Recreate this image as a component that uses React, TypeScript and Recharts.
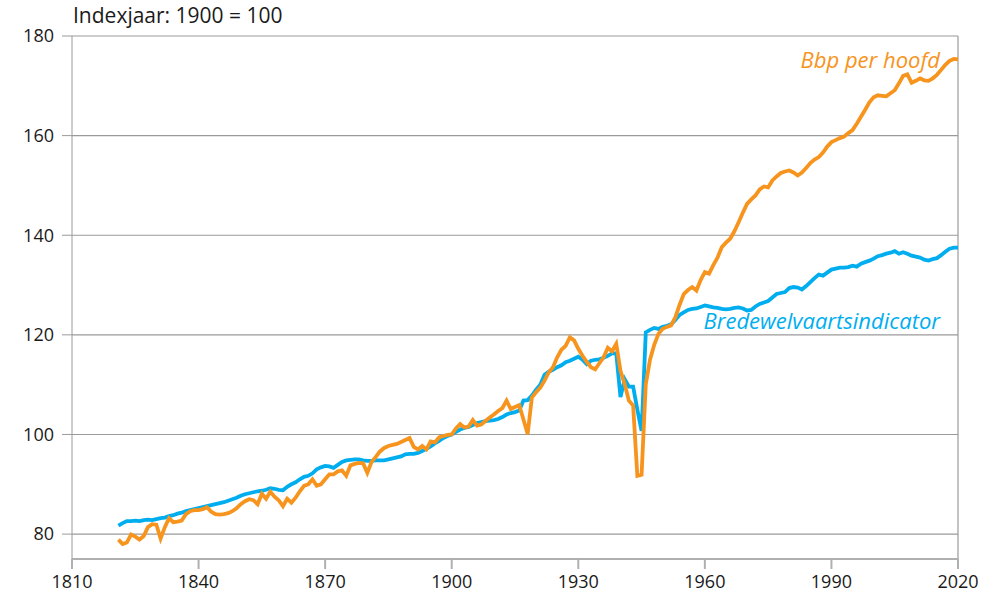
import { LineChart, Line, XAxis, YAxis, CartesianGrid, ReferenceLine } from 'recharts'

const firstYear = 1821

// Bredewelvaartsindicator, 1821-2020 (1900 = 100)
const welvaart = [
  81.7, 82.2, 82.6, 82.6, 82.7, 82.6, 82.8, 82.9, 82.8, 83.0,
  83.2, 83.3, 83.6, 83.8, 84.1, 84.3, 84.6, 84.8, 85.0, 85.2,
  85.4, 85.6, 85.8, 86.0, 86.2, 86.4, 86.7, 87.0, 87.3, 87.7,
  88.0, 88.2, 88.4, 88.6, 88.7, 88.9, 89.2, 89.1, 88.9, 88.8,
  89.5, 90.0, 90.4, 91.0, 91.5, 91.7, 92.2, 93.0, 93.4, 93.7,
  93.6, 93.3, 93.9, 94.5, 94.8, 94.9, 95.0, 95.0, 94.8, 94.7,
  94.7, 94.8, 94.8, 94.8, 95.0, 95.2, 95.4, 95.6, 96.0, 96.1,
  96.1, 96.3, 96.7, 97.1, 97.6, 98.2, 98.7, 99.3, 99.7, 100.0,
  100.5, 101.0, 101.3, 101.5, 101.9, 102.3, 102.5, 102.7, 102.8, 102.9,
  103.1, 103.5, 104.0, 104.3, 104.5, 104.8, 106.8, 106.9, 107.8, 109.0,
  110.0, 112.0, 112.6, 113.0, 113.5, 113.9, 114.5, 114.8, 115.2, 115.6,
  115.0, 114.1, 114.8, 115.0, 115.1, 115.4, 115.8, 116.3, 116.3, 107.5,
  111.1, 109.6, 109.6, 105.0, 100.7, 120.5, 121.0, 121.4, 121.2, 121.6,
  121.8, 122.1, 123.0, 124.0, 124.5, 125.0, 125.2, 125.3, 125.6, 125.9,
  125.7, 125.5, 125.4, 125.2, 125.1, 125.2, 125.4, 125.5, 125.3, 124.9,
  125.0, 125.7, 126.2, 126.5, 126.8, 127.5, 128.2, 128.4, 128.6, 129.4,
  129.6, 129.5, 129.1, 129.8, 130.6, 131.4, 132.1, 131.9, 132.5, 133.1,
  133.3, 133.5, 133.5, 133.6, 133.9, 133.7, 134.3, 134.6, 134.9, 135.3,
  135.8, 136.0, 136.3, 136.5, 136.8, 136.3, 136.6, 136.3, 135.9, 135.7,
  135.5, 135.1, 134.9, 135.2, 135.4, 136.0, 136.7, 137.3, 137.5, 137.5,
]

// Bbp per hoofd, 1821-2020 (1900 = 100)
const bbp = [
  78.9, 78.0, 78.3, 79.9, 79.5, 78.9, 79.6, 81.4, 82.0, 81.9,
  79.1, 81.4, 83.2, 82.4, 82.5, 82.7, 84.0, 84.6, 84.8, 84.8,
  85.0, 85.4, 84.5, 84.0, 83.9, 84.0, 84.2, 84.6, 85.2, 86.0,
  86.6, 87.0, 86.8, 86.0, 88.1, 87.1, 88.5, 87.5, 86.8, 85.6,
  87.1, 86.3, 87.3, 88.6, 89.7, 90.0, 91.0, 89.7, 90.0, 91.0,
  92.0, 92.0, 92.6, 92.8, 91.7, 93.8, 94.1, 94.3, 94.2, 92.3,
  94.5, 95.5, 96.6, 97.3, 97.7, 97.9, 98.1, 98.5, 98.9, 99.3,
  97.5, 97.0, 97.7, 97.0, 98.6, 98.4, 99.4, 99.7, 99.9, 100.0,
  101.2, 102.1, 101.4, 101.6, 102.9, 101.8, 102.0, 102.7, 103.4, 104.0,
  104.7, 105.3, 106.8, 105.1, 105.5, 105.9, 103.0, 100.1, 107.4, 108.5,
  109.4, 110.8, 112.5, 113.5, 115.5, 117.0, 117.8, 119.5, 118.9, 117.2,
  115.8, 114.6, 113.5, 113.1, 114.3, 115.5, 117.4, 116.7, 118.2, 112.8,
  110.1, 106.8, 105.8, 91.7, 91.9, 110.1, 115.0, 118.0, 120.2, 121.2,
  121.6, 121.9, 123.5, 126.0, 128.2, 129.0, 129.6, 128.9, 131.0, 132.6,
  132.3, 134.0, 135.5, 137.6, 138.5, 139.3, 140.8, 142.6, 144.5, 146.3,
  147.2, 148.0, 149.2, 149.8, 149.6, 151.0, 151.8, 152.5, 152.8, 153.0,
  152.6, 152.0, 152.6, 153.5, 154.5, 155.2, 155.7, 156.6, 157.8, 158.7,
  159.1, 159.5, 159.8, 160.5, 161.1, 162.4, 163.8, 165.2, 166.7, 167.7,
  168.1, 168.0, 167.9, 168.5, 169.1, 170.5, 172.0, 172.3, 170.6, 171.0,
  171.5, 171.1, 171.0, 171.5, 172.2, 173.2, 174.2, 175.0, 175.4, 175.3,
]

const xTicks = [1810, 1840, 1870, 1900, 1930, 1960, 1990, 2020]
const yTicks = [80, 100, 120, 140, 160, 180]

const data = welvaart.map((w, i) => ({ jaar: firstYear + i, welvaart: w, bbp: bbp[i] }))

const ORANGE = '#f7941d'
const BLUE = '#00aeef'
const GRID = '#9a9a9a'
const font = '"Open Sans", sans-serif'

export default function App() {
  return (
    <div style={{ position: 'absolute', left: 0, top: 0, width: 990, height: 605, fontFamily: font, background: '#fff' }}>
      <div style={{ position: 'absolute', left: 73, top: 1, fontSize: 21, color: '#1a1a1a', whiteSpace: 'nowrap' }}>
        Indexjaar: 1900 = 100
      </div>
      <LineChart width={990} height={605} data={data} margin={{ top: 36, right: 32, bottom: 0, left: 0 }}>
        <CartesianGrid vertical={false} stroke={GRID} strokeWidth={1.2} />
        <XAxis
          dataKey="jaar"
          type="number"
          domain={[1810, 2020]}
          ticks={xTicks}
          height={46}
          tickSize={10}
          tickMargin={6}
          stroke="#b0b0b0"
          strokeWidth={2}
          tick={{ fill: '#1a1a1a', fontSize: 18, fontFamily: font }}
        />
        <YAxis
          type="number"
          domain={[75, 180]}
          ticks={yTicks}
          width={72}
          tickSize={10}
          tickMargin={8}
          stroke={GRID}
          tick={{ fill: '#1a1a1a', fontSize: 18, fontFamily: font }}
        />
        <ReferenceLine x={2020} stroke={GRID} strokeWidth={1.2} />
        <Line dataKey="welvaart" stroke={BLUE} strokeWidth={3.8} dot={false} isAnimationActive={false} />
        <Line dataKey="bbp" stroke={ORANGE} strokeWidth={3.8} dot={false} isAnimationActive={false} />
      </LineChart>
      <div style={{ position: 'absolute', right: 50, top: 44, fontSize: 22, fontStyle: 'italic', color: ORANGE, whiteSpace: 'nowrap' }}>
        Bbp per hoofd
      </div>
      <div style={{ position: 'absolute', right: 50, top: 305, fontSize: 22, fontStyle: 'italic', color: BLUE, whiteSpace: 'nowrap' }}>
        Bredewelvaartsindicator
      </div>
    </div>
  )
}
